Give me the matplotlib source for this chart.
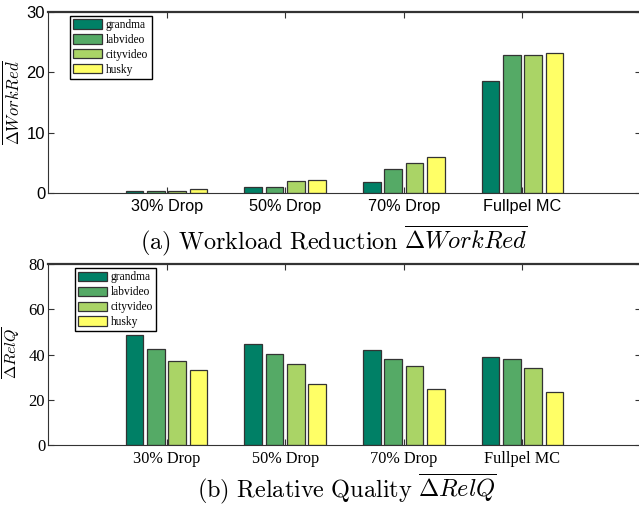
import numpy as np
import matplotlib
matplotlib.use('Agg')
import matplotlib.pyplot as plt

plt.rcParams['mathtext.fontset'] = 'cm'

categories = ['30% Drop', '50% Drop', '70% Drop', 'Fullpel MC']
series = ['grandma', 'labvideo', 'cityvideo', 'husky']
colors = ['#008066', '#55aa66', '#aad466', '#ffff66']

# workload reduction
work = {
    'grandma':   [0.4, 1.0, 1.8, 18.6],
    'labvideo':  [0.3, 1.0, 3.9, 22.8],
    'cityvideo': [0.4, 2.0, 4.9, 22.9],
    'husky':     [0.6, 2.2, 6.0, 23.2],
}
# relative quality
relq = {
    'grandma':   [48.7, 44.7, 42.2, 39.1],
    'labvideo':  [42.5, 40.4, 38.1, 37.9],
    'cityvideo': [37.2, 35.8, 34.8, 34.2],
    'husky':     [33.3, 26.8, 24.6, 23.3],
}

fig = plt.figure(figsize=(6.39, 5.08), dpi=100)
ax1 = fig.add_axes([48/639, 1-193/508, 593/639, 181/508])
ax2 = fig.add_axes([48/639, 1-445/508, 593/639, 180.7/508])

x = np.arange(1, len(categories) + 1)
width = 0.148
offsets = [-0.27, -0.09, 0.09, 0.27]


def draw(ax, data, ymax, yticks, tickfont, ylabel, ysize, legx, ly):
    for s, c, off in zip(series, colors, offsets):
        ax.bar(x + off, data[s], width, color=c, edgecolor='#333333', linewidth=0.9, label=s)
    ax.set_xlim(0, 5)
    ax.set_ylim(0, ymax)
    ax.set_xticks(x)
    ax.set_xticklabels(categories, family=tickfont, fontsize=11.7)
    ax.set_yticks(yticks)
    ax.set_yticklabels([str(t) for t in yticks], family=tickfont, fontsize=12)
    ax.tick_params(direction='in', top=True, right=True, length=4, width=0.8, color='#333333')
    ax.tick_params(axis='x', pad=4)
    ax.tick_params(axis='y', pad=2)
    for side in ['top', 'bottom', 'left']:
        ax.spines[side].set_color('#333333')
    ax.spines['right'].set_visible(False)
    ax.spines['top'].set_linewidth(1.6)
    ax.set_ylabel(ylabel, fontsize=ysize)
    ax.yaxis.set_label_coords(-0.042, ly)
    leg = ax.legend(loc='upper left', bbox_to_anchor=(legx, 0.98), prop={'family': 'Liberation Serif', 'size': 8.3},
                    handlelength=2.5, handleheight=0.85, labelspacing=0.25, handletextpad=0.3,
                    borderpad=0.3, fancybox=False, framealpha=1, edgecolor='black', borderaxespad=0)
    leg.get_frame().set_linewidth(1.0)


draw(ax1, work, 30, [0, 10, 20, 30], 'Liberation Sans', r'$\overline{\Delta WorkRed}$', 12, 0.037, 0.5)
draw(ax2, relq, 80, [0, 20, 40, 60, 80], 'Liberation Serif', r'$\overline{\Delta RelQ}$', 11.5, 0.045, 0.51)

fig.text(334/639, 1-241/508, r'$\mathrm{(a)\ Workload\ Reduction}\ \overline{\Delta WorkRed}$',
         ha='center', va='center', fontsize=17.5)
fig.text(347/639, 1-489/508, r'$\mathrm{(b)\ Relative\ Quality}\ \overline{\Delta RelQ}$',
         ha='center', va='center', fontsize=17.5)

fig.savefig('out.png', dpi=100)
